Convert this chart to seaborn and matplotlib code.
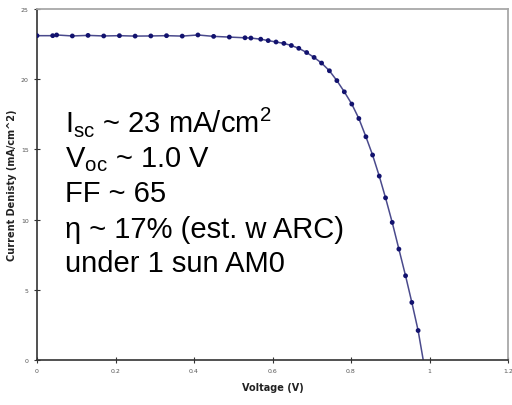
import matplotlib
matplotlib.use("Agg")
import matplotlib.pyplot as plt
import seaborn as sns
import pandas as pd

# Measured points (Voltage V, Current density mA/cm^2)
voltage = [0.0, 0.04, 0.05, 0.09, 0.13, 0.17, 0.21, 0.25, 0.29, 0.33, 0.37, 0.41, 0.45, 0.49,
           0.53, 0.545, 0.57, 0.589, 0.609, 0.629, 0.648, 0.667, 0.687, 0.706, 0.725, 0.745,
           0.764, 0.783, 0.802, 0.820, 0.838, 0.855, 0.872, 0.888, 0.905, 0.922, 0.939, 0.955, 0.971]
current = [23.1, 23.1, 23.15, 23.08, 23.12, 23.08, 23.1, 23.07, 23.08, 23.1, 23.07, 23.15, 23.05, 23.0,
           22.95, 22.93, 22.85, 22.75, 22.65, 22.55, 22.4, 22.2, 21.9, 21.55, 21.15, 20.6,
           19.9, 19.1, 18.23, 17.2, 15.9, 14.6, 13.1, 11.55, 9.8, 7.9, 6.0, 4.1, 2.1]
# open-circuit end of the drawn curve
voc_end_v = [0.984]
voc_end_j = [0.0]

xticks = [0, 0.2, 0.4, 0.6, 0.8, 1.0, 1.2]
xticklabels = ["0", "0.2", "0.4", "0.6", "0.8", "1", "1.2"]
yticks = [0, 5, 10, 15, 20, 25]

annot_lines = [
    r"I$_{\mathrm{sc}}$ ~ 23 mA/cm$^{\mathrm{2}}$",
    r"V$_{\mathrm{oc}}$ ~ 1.0 V",
    "FF ~ 65",
    "\u03b7 ~ 17% (est. w ARC)",
    "under 1 sun AM0",
]

sns.set_style("ticks")
plt.rcParams["mathtext.fontset"] = "custom"
plt.rcParams["mathtext.rm"] = "Liberation Sans"
plt.rcParams["mathtext.it"] = "Liberation Sans"
plt.rcParams["mathtext.bf"] = "Liberation Sans:bold"

W, H = 512, 406
fig = plt.figure(figsize=(W / 100, H / 100), dpi=100)
ax = fig.add_axes([37 / W, 1 - 361 / H, (508 - 37) / W, (361 - 10) / H])

line_df = pd.DataFrame({"V": voltage + voc_end_v, "J": current + voc_end_j})
pts_df = pd.DataFrame({"V": voltage, "J": current})

sns.lineplot(data=line_df, x="V", y="J", ax=ax, sort=False, estimator=None,
             color="#4a4a8c", linewidth=1.1)
sns.scatterplot(data=pts_df, x="V", y="J", ax=ax, color="#12126e", s=12,
                edgecolor="none", zorder=3)

ax.set_xlim(0, 1.2)
ax.set_ylim(0, 25)
ax.set_xticks(xticks)
ax.set_xticklabels(xticklabels)
ax.set_yticks(yticks)
ax.tick_params(axis="both", direction="inout", length=4, width=0.8, labelsize=4.5,
               labelcolor="#555555", color="#333333", pad=4)

ax.set_xlabel("Voltage (V)", fontsize=7, fontweight="bold", color="#222222",
              family="DejaVu Sans", labelpad=6)
ax.set_ylabel("Current Denisty (mA/cm^2)", fontsize=7, fontweight="bold", color="#222222",
              family="DejaVu Sans", labelpad=3)

for s in ["left", "bottom"]:
    ax.spines[s].set_color("#333333")
    ax.spines[s].set_linewidth(1.2)
for s in ["top", "right"]:
    ax.spines[s].set_visible(True)
    ax.spines[s].set_color("#a8a8a8")
    ax.spines[s].set_linewidth(1.3)

baselines = [132, 167, 202, 238, 272]
for txt, yb in zip(annot_lines, baselines):
    fig.text(65 / W, 1 - yb / H, txt, fontsize=21, family="Liberation Sans",
             color="black", va="baseline", ha="left")

fig.savefig("out.png", dpi=100, facecolor="white")
